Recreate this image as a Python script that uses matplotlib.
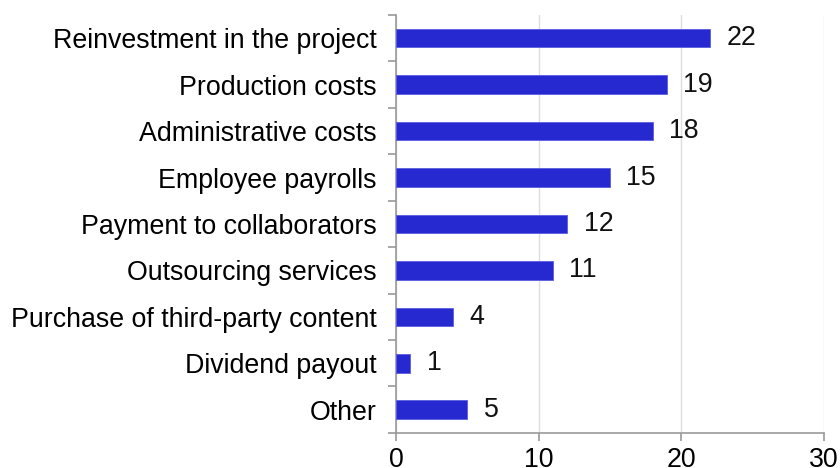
import matplotlib.pyplot as plt
import numpy as np

categories = [
    "Reinvestment in the project",
    "Production costs",
    "Administrative costs",
    "Employee payrolls",
    "Payment to collaborators",
    "Outsourcing services",
    "Purchase of third-party content",
    "Dividend payout",
    "Other",
]
values = [22, 19, 18, 15, 12, 11, 4, 1, 5]
x_ticks = [0, 10, 20, 30]

plt.rcParams['font.family'] = ['Liberation Sans', 'DejaVu Sans']

fig = plt.figure(figsize=(8.4, 4.68), dpi=100)
ax = fig.add_axes([0.4714, 0.075, 0.5096, 0.893])

n = len(categories)
pos = np.arange(n)[::-1]
ax.barh(pos, values, height=0.4, color="#2629d0", edgecolor="#5a5ee0",
        linewidth=0.6, zorder=3)
for p, v in zip(pos, values):
    ax.text(v + 1.15, p, str(v), va="center", ha="left", fontsize=19.3,
            color="#111111")

ax.set_xlim(0, 30)
ax.set_ylim(-0.5, n - 0.5)
ax.set_xticks(x_ticks)
ax.set_xticklabels([str(t) for t in x_ticks], fontsize=19.3)
ax.set_yticks(pos)
ax.set_yticklabels(categories, fontsize=19.3)
# boundary ticks between categories
ax.set_yticks(np.arange(-0.5, n, 1), minor=True)
ax.tick_params(axis="y", which="major", length=0, pad=14)
ax.tick_params(axis="y", which="minor", length=6, color="#999999",
               width=1.2)
ax.tick_params(axis="x", length=6, color="#999999", width=1.2, pad=4)

ax.grid(axis="x", color="#dddddd", linewidth=1, zorder=0)
for s in ["top", "right"]:
    ax.spines[s].set_visible(False)
for s in ["left", "bottom"]:
    ax.spines[s].set_color("#999999")
    ax.spines[s].set_linewidth(1.2)

fig.savefig("out.png", dpi=100)
